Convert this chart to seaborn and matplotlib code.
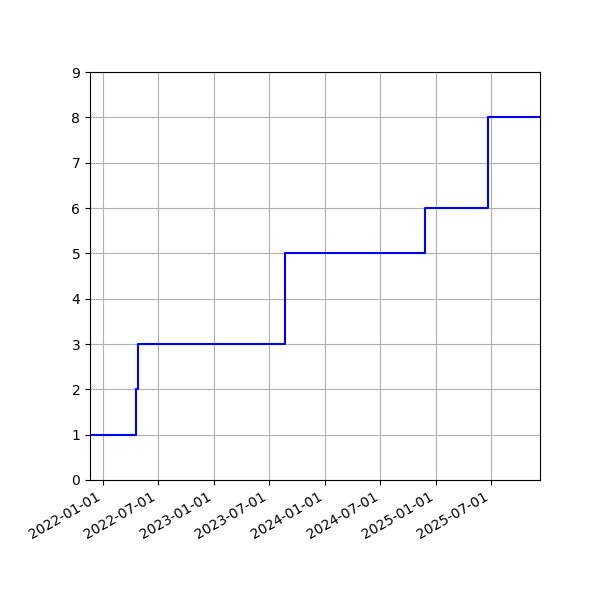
import pandas as pd
import matplotlib
matplotlib.use('Agg')
from matplotlib import pyplot as plt
import matplotlib.dates as mdates
import seaborn as sns

# cumulative count over time
dates = ['2021-11-19', '2022-04-19', '2022-04-26', '2023-08-22',
         '2024-11-26', '2025-06-21', '2025-12-09']
counts = [1, 2, 3, 5, 6, 8, 8]

df = pd.DataFrame({'date': pd.to_datetime(dates), 'count': counts})

sns.set_style('ticks')
plt.rcParams['font.family'] = ['DejaVu Sans']

fig, ax = plt.subplots(figsize=(6, 6), dpi=100)
sns.lineplot(data=df, x='date', y='count', ax=ax, color='blue',
             linewidth=1.5, drawstyle='steps-post')

ax.set_xlim(df['date'].min(), df['date'].max())
ax.set_ylim(0, 9)
ax.xaxis.set_major_locator(mdates.MonthLocator(bymonth=[1, 7]))
ax.xaxis.set_major_formatter(mdates.DateFormatter('%Y-%m-%d'))
ax.grid(True, color='#b0b0b0', linewidth=0.8)
ax.set_xlabel('')
ax.set_ylabel('')
for s in ax.spines.values():
    s.set_visible(True)
    s.set_color('black')
ax.tick_params(colors='black', labelsize=10)
fig.autofmt_xdate()
fig.subplots_adjust(left=0.15, right=0.9, top=0.88, bottom=0.2)
fig.savefig('out.png', dpi=100)
